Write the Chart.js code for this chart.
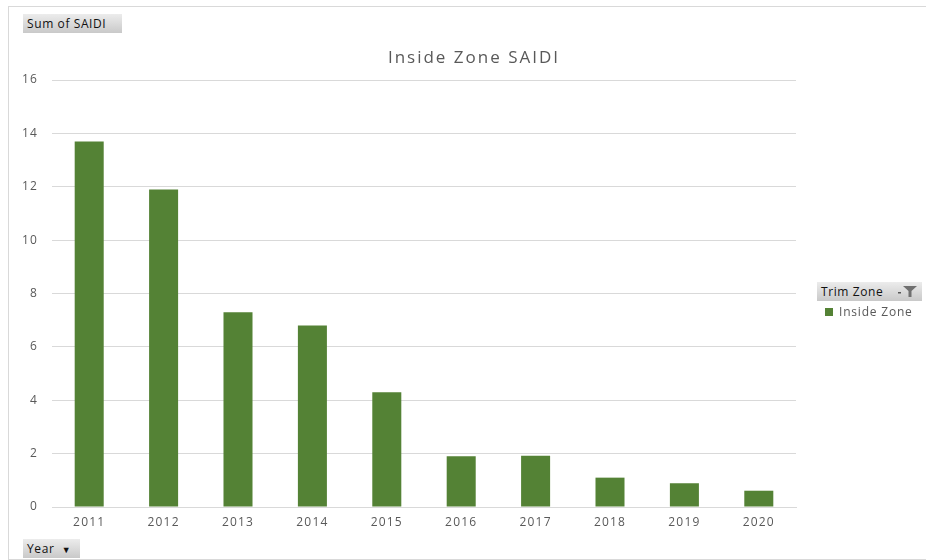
<!DOCTYPE html>
<html lang="en">
<head>
  <meta charset="UTF-8">
  <title>Inside Zone SAIDI</title>
  <script src="https://cdn.jsdelivr.net/npm/chart.js"></script>
  <style>
    body { margin: 0; background: #fff; font-family: "Open Sans", sans-serif; }
    #wrap { position: relative; width: 926px; height: 560px; overflow: hidden; }
    #frame { position: absolute; left: 8px; top: 6px; width: 930px; height: 552px; border: 1px solid #d9d9d9; }
    canvas { position: absolute; left: 0; top: 0; }
    #title {
      position: absolute; left: 8px; width: 932px; top: 45px; text-align: center;
      font-size: 17px; letter-spacing: 2px; color: #595959;
    }
    .btn {
      position: absolute; font-size: 12px; letter-spacing: 0.6px; color: #111; padding: 0 4px;
      background: linear-gradient(#ececec, #c9c9c9); line-height: 19px; height: 19px;
      box-sizing: border-box; white-space: nowrap;
    }
    .legend { position: absolute; left: 825px; top: 303px; font-size: 12px; letter-spacing: 0.8px; color: #595959; }
    .legend span { display: inline-block; width: 8px; height: 8px; background: #548235; margin-right: 6px; }
    .funnel { position: absolute; right: 4px; top: 4px; }
  </style>
</head>
<body>
<div id="wrap">
  <div id="frame"></div>
  <canvas id="saidiChart" width="926" height="560"></canvas>
  <div id="title">Inside Zone SAIDI</div>
  <div class="btn" style="left:23px; top:14px; width:99px;">Sum of SAIDI</div>
  <div class="btn" style="left:23px; top:539px; width:57px;">Year &nbsp;<span style="font-size:9px">&#9660;</span></div>
  <div class="btn" style="left:817px; top:282px; width:105px;">Trim Zone
    <svg class="funnel" width="20" height="11" viewBox="0 0 20 11">
      <rect x="0" y="6" width="3" height="1.5" fill="#555"/>
      <polygon points="5,0 19,0 13.5,5 13.5,11 10.5,11 10.5,5" fill="#707070"/>
    </svg>
  </div>
  <div class="legend"><span></span>Inside Zone</div>
</div>
<script>
  const years = ['2011', '2012', '2013', '2014', '2015', '2016', '2017', '2018', '2019', '2020'];
  const saidi = [13.7, 11.9, 7.3, 6.8, 4.3, 1.9, 1.92, 1.1, 0.89, 0.61];
  const seriesName = 'Inside Zone';

  // the picture's text looks stretched sideways, so widen canvas text a bit
  const spacing = {
    id: 'spacing',
    beforeDraw: chart => { chart.ctx.letterSpacing = '1.2px'; }
  };

  const ctx = document.getElementById('saidiChart').getContext('2d');
  new Chart(ctx, {
    type: 'bar',
    data: {
      labels: years,
      datasets: [{
        label: seriesName,
        data: saidi,
        backgroundColor: '#548235',
        barPercentage: 0.39,
        categoryPercentage: 1
      }]
    },
    options: {
      responsive: false,
      animation: false,
      layout: { padding: { left: 8, top: 80, right: 130, bottom: 30 } },
      plugins: {
        legend: { display: false },
        tooltip: { enabled: false }
      },
      scales: {
        x: {
          grid: { display: false, drawTicks: false, tickLength: 0 },
          border: { display: true, color: '#d9d9d9' },
          ticks: { color: '#595959', padding: 8, font: { family: 'Open Sans', size: 12 } },
          afterFit: s => { s.height = 23; }
        },
        y: {
          min: 0,
          max: 16,
          ticks: { stepSize: 2, color: '#595959', padding: 14, font: { family: 'Open Sans', size: 12 } },
          grid: { color: '#d9d9d9', drawTicks: false, tickLength: 0 },
          border: { display: false },
          afterFit: s => { s.width = 44; }
        }
      }
    },
    plugins: [spacing]
  });
</script>
</body>
</html>
